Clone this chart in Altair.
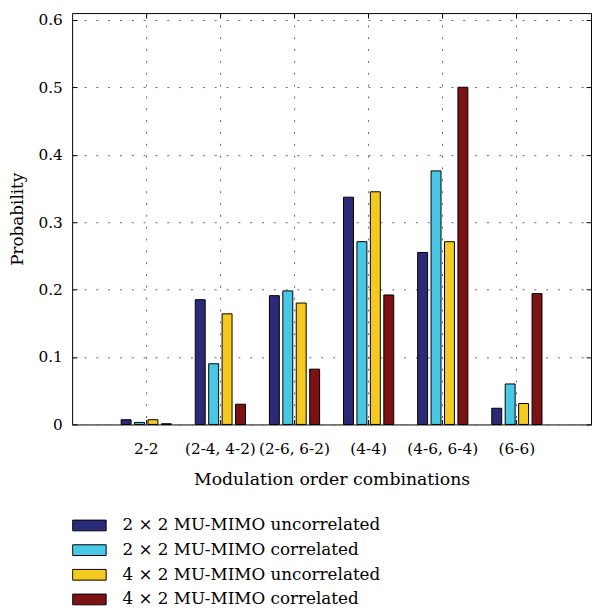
import altair as alt
import pandas as pd

categories = ["2-2", "(2-4, 4-2)", "(2-6, 6-2)", "(4-4)", "(4-6, 6-4)", "(6-6)"]
series = [
    "2 × 2 MU-MIMO uncorrelated",
    "2 × 2 MU-MIMO correlated",
    "4 × 2 MU-MIMO uncorrelated",
    "4 × 2 MU-MIMO correlated",
]
u22 = [0.007, 0.185, 0.191, 0.337, 0.255, 0.024]
c22 = [0.003, 0.090, 0.198, 0.271, 0.376, 0.060]
u42 = [0.007, 0.164, 0.180, 0.345, 0.271, 0.031]
c42 = [0.001, 0.030, 0.082, 0.192, 0.500, 0.194]
colors = ["#2a2a78", "#48c8e4", "#f4ca20", "#7d1214"]
y_ticks = [0, 0.1, 0.2, 0.3, 0.4, 0.5, 0.6]

rows = []
for s, vals in zip(series, [u22, c22, u42, c42]):
    for c, v in zip(categories, vals):
        rows.append({"cat": c, "series": s, "p": v})
df = pd.DataFrame(rows)

FONT = "DejaVu Serif"

xscale = alt.Scale(domain=categories, paddingInner=0, paddingOuter=0.5)
yscale = alt.Scale(domain=[0, 0.61], nice=False, zero=True)
offscale = alt.Scale(domain=series, paddingInner=0.26, paddingOuter=0.89)
cscale = alt.Scale(domain=series, range=colors)

base = alt.Chart(df)

bars = base.mark_bar(stroke="black", strokeWidth=1).encode(
    x=alt.X("cat:N", scale=xscale, sort=categories,
            axis=alt.Axis(title="Modulation order combinations", orient="bottom",
                          offset=-5, tickSize=5, labelPadding=17, titlePadding=14,
                          labelAngle=0, grid=True, bandPosition=0.5,
                          labelFontSize=15.5, titleFontSize=17.5)),
    xOffset=alt.XOffset("series:N", scale=offscale, sort=series),
    y=alt.Y("p:Q", scale=yscale,
            axis=alt.Axis(title="Probability", orient="left", values=y_ticks,
                          offset=-5, tickSize=5, labelPadding=10, titlePadding=12,
                          grid=True, labelFontSize=15.5, titleFontSize=17,
                          labelExpr="datum.value == 0 ? '0' : format(datum.value, '.1f')")),
    color=alt.Color("series:N", scale=cscale, sort=series,
                    legend=alt.Legend(title=None, orient="none", legendX=0, legendY=508,
                                      direction="vertical", padding=0,
                                      symbolType="M-1,-0.32L1,-0.32L1,0.32L-1,0.32Z",
                                      symbolSize=1156, symbolStrokeColor="black",
                                      symbolStrokeWidth=1, symbolOpacity=1,
                                      labelOffset=16, labelFontSize=17,
                                      clipHeight=22.8, rowPadding=2,
                                      labelFont=FONT, labelColor="black",
                                      labelLimit=400)),
)

frame = base.mark_bar(opacity=0).encode(
    x=alt.X("cat:N", scale=xscale, sort=categories,
            axis=alt.Axis(title=None, orient="top", labels=False, offset=-5,
                          tickSize=5, grid=False, bandPosition=0.5)),
    xOffset=alt.XOffset("series:N", scale=offscale, sort=series),
    y=alt.Y("p:Q", scale=yscale,
            axis=alt.Axis(title=None, orient="right", labels=False, values=y_ticks,
                          offset=-5, tickSize=5, grid=False)),
    color=alt.Color("series:N", scale=cscale, sort=series, legend=None),
)

chart = alt.layer(bars, frame).resolve_axis(x="independent", y="independent").properties(
    width=526, height=417,
    background="white",
    autosize=alt.AutoSizeParams(type="none"),
    padding={"left": 65, "top": 1, "right": 1, "bottom": 188},
).configure_view(stroke="black", strokeWidth=1).configure_axis(
    domain=False, tickColor="black", tickWidth=1,
    gridColor="#666666", gridDash=[2, 10], gridWidth=1,
    labelFont=FONT, titleFont=FONT, labelColor="black", titleColor="black",
    titleFontWeight="normal",
)

chart.save("out.html", embed_options={"renderer": "svg", "actions": False})
